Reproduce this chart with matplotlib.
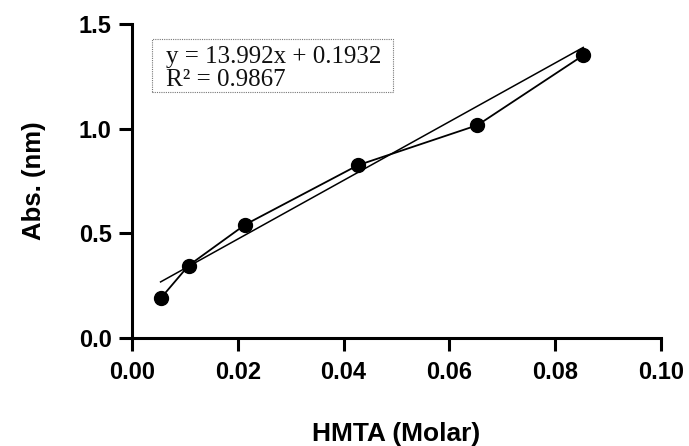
import matplotlib
matplotlib.use("Agg")
import matplotlib.pyplot as plt
from matplotlib.patches import Rectangle
import numpy as np

x_vals = [0.0054, 0.0107, 0.0214, 0.0427, 0.0653, 0.0853]
y_vals = [0.19, 0.347, 0.542, 0.825, 1.016, 1.349]
slope = 13.992
intercept = 0.1932
eq_line1 = "y = 13.992x + 0.1932"
eq_line2 = "R² = 0.9867"
x_ticks = [0.00, 0.02, 0.04, 0.06, 0.08, 0.10]
y_ticks = [0.0, 0.5, 1.0, 1.5]

fig = plt.figure(figsize=(6.89, 4.46), dpi=100)
ax = fig.add_axes([0.1916, 0.2415, 0.9594 - 0.1916, 0.947 - 0.2415])

fit_x = np.array([x_vals[0], x_vals[-1]])
ax.plot(fit_x, slope * fit_x + intercept, color="black", lw=1.1, zorder=2)
ax.plot(x_vals, y_vals, color="black", lw=1.3, marker="o", markersize=10, zorder=3)

ax.set_xlim(0, 0.10)
ax.set_ylim(0, 1.5)
ax.set_xticks(x_ticks)
ax.set_yticks(y_ticks)
ax.set_xticklabels([f"{v:.2f}" for v in x_ticks])
ax.set_yticklabels([f"{v:.1f}" for v in y_ticks])

for s in ["top", "right"]:
    ax.spines[s].set_visible(False)
for s in ["left", "bottom"]:
    ax.spines[s].set_linewidth(2.2)
ax.tick_params(axis="both", which="major", direction="out", length=9.5, width=2.2,
               labelsize=17, pad=5)
ax.tick_params(axis="x", pad=7)
for lab in ax.get_xticklabels() + ax.get_yticklabels():
    lab.set_fontfamily("Liberation Sans")
    lab.set_fontweight("bold")

ax.set_xlabel("HMTA (Molar)", fontsize=19, fontweight="bold", family="Liberation Sans", labelpad=27)
ax.set_ylabel("Abs. (nm)", fontsize=18.5, fontweight="bold", family="Liberation Sans", labelpad=24)

ax.add_patch(Rectangle((0.0378, 0.783), 0.4934 - 0.0378, 0.951 - 0.783,
                       transform=ax.transAxes, facecolor="white", edgecolor="#777777",
                       linestyle=(0, (1, 1)), linewidth=0.8, zorder=4, clip_on=False))
ax.text(0.064, 0.894, eq_line1, transform=ax.transAxes, fontsize=18, color="#111111",
        family="Liberation Serif", va="center", ha="left", zorder=5)
ax.text(0.064, 0.821, eq_line2, transform=ax.transAxes, fontsize=18, color="#111111",
        family="Liberation Serif", va="center", ha="left", zorder=5)

fig.savefig("out.png", dpi=100)
